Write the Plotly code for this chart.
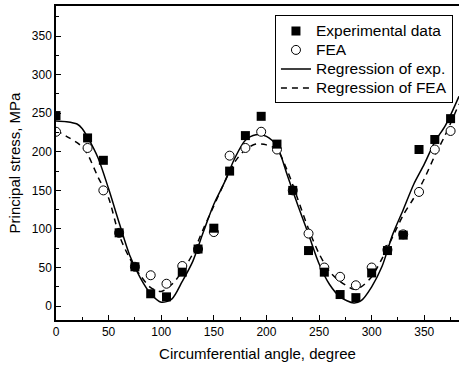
import plotly.graph_objects as go

# ---- data ----
angle_pts = [0, 30, 45, 60, 75, 90, 105, 120, 135, 150, 165, 180, 195,
             210, 225, 240, 255, 270, 285, 300, 315, 330, 345, 360, 375]
exp_vals = [247, 218, 189, 95, 51, 16, 12, 44, 74, 101, 175, 221, 246,
            210, 150, 72, 44, 15, 11, 43, 72, 92, 203, 216, 243]
fea_vals = [226, 205, 150, 95, 51, 40, 29, 52, 74, 96, 195, 205, 226,
            203, 150, 94, 50, 38, 27, 50, 73, 93, 148, 203, 227]

angle_fit = [0, 10, 20, 25, 30, 40, 50, 60, 70, 80, 90, 100, 110, 120, 130,
             140, 150, 160, 170, 180, 190, 200, 210, 220, 230, 240, 250, 260,
             270, 283, 290, 300, 310, 320, 330, 340, 350, 360, 370, 383]
reg_exp = [240, 239, 236, 230, 219, 192, 152, 108, 66, 37, 16, 5, 9, 32, 58,
           96, 132, 160, 192, 215, 222, 220, 207, 169, 130, 93, 55, 28,
           12, 4, 7, 25, 52, 93, 125, 158, 184, 213, 234, 272]
reg_fea = [228, 220, 212, 206, 197, 167, 140, 92, 62, 40, 24, 19, 28, 45, 68,
           100, 130, 160, 187, 203, 210, 209, 203, 175, 138, 100, 68, 45,
           32, 22, 25, 38, 62, 90, 118, 140, 165, 195, 222, 262]

x_ticks = [0, 50, 100, 150, 200, 250, 300, 350]
y_ticks = [0, 50, 100, 150, 200, 250, 300, 350]

legend_names = ["Experimental data", "FEA", "Regression of exp.", "Regression of FEA"]

FONT = "Liberation Sans, Arial, sans-serif"


def lg(name):
    return '<span style="font-size:15.5px">' + name + '</span>'


fig = go.Figure()
fig.add_trace(go.Scatter(x=angle_fit, y=reg_exp, mode="lines", name=lg(legend_names[2]),
                         line=dict(color="black", width=1.5, shape="spline", smoothing=0.8),
                         legendrank=3))
fig.add_trace(go.Scatter(x=angle_fit, y=reg_fea, mode="lines", name=lg(legend_names[3]),
                         line=dict(color="black", width=1.5, dash="6px,5px", shape="spline", smoothing=0.8),
                         legendrank=4))
fig.add_trace(go.Scatter(x=angle_pts, y=fea_vals, mode="markers", name=lg(legend_names[1]),
                         marker=dict(symbol="circle", size=9, color="white",
                                     line=dict(color="black", width=1)),
                         legendrank=2))
fig.add_trace(go.Scatter(x=angle_pts, y=exp_vals, mode="markers", name=lg(legend_names[0]),
                         marker=dict(symbol="square", size=9, color="black",
                                     line=dict(color="black", width=0)),
                         legendrank=1))

axis_common = dict(showline=True, linecolor="black", linewidth=1.5,
                   ticks="inside", ticklen=5, tickwidth=1, tickcolor="black",
                   showgrid=False, zeroline=False,
                   tickfont=dict(family=FONT, size=12, color="black"),
                   minor=dict(ticks="inside", ticklen=3, tickwidth=1, tickcolor="black"))

fig.update_xaxes(range=[0, 383], tickvals=x_ticks, ticktext=[str(v) for v in x_ticks],
                 mirror=True,
                 title=dict(text="Circumferential angle, degree",
                            font=dict(family=FONT, size=15, color="black"), standoff=10),
                 minor_dtick=25, minor_tick0=0, **axis_common)
fig.update_yaxes(range=[-18, 389], tickvals=y_ticks, ticktext=[str(v) for v in y_ticks],
                 title=dict(text="Principal stress, MPa",
                            font=dict(family=FONT, size=15, color="black"), standoff=8),
                 minor_dtick=25, minor_tick0=0, **axis_common)

fig.update_layout(
    width=459, height=366,
    margin=dict(l=56, r=0, t=6, b=46),
    paper_bgcolor="white", plot_bgcolor="white",
    font=dict(family=FONT, color="black"),
    legend=dict(x=0.985, y=0.97, xanchor="right", yanchor="top",
                bordercolor="black", borderwidth=1, bgcolor="white",
                font=dict(family=FONT, size=12, color="black"),
                tracegroupgap=0, itemwidth=30),
)

fig.write_html("out.html", config={"displayModeBar": False},
               post_script="document.body.style.margin='0';document.body.style.overflow='hidden';")
